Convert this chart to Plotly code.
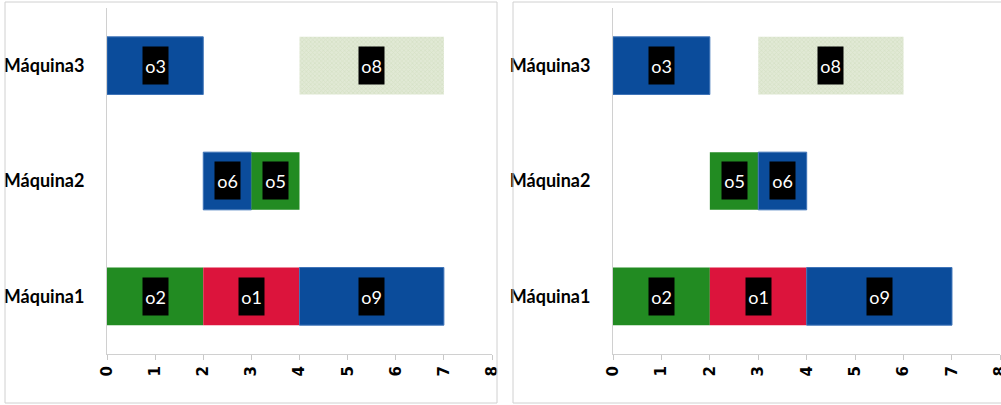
import plotly.graph_objects as go

# Machine rows (bottom to top)
machines = ["Máquina1", "Máquina2", "Máquina3"]

# Schedule A
a_ops = ["o2", "o1", "o9", "o6", "o5", "o3", "o8"]
a_machine = ["Máquina1", "Máquina1", "Máquina1", "Máquina2", "Máquina2", "Máquina3", "Máquina3"]
a_start = [0, 2, 4, 2, 3, 0, 4]
a_end = [2, 4, 7, 3, 4, 2, 7]

# Schedule B
b_ops = ["o2", "o1", "o9", "o5", "o6", "o3", "o8"]
b_machine = ["Máquina1", "Máquina1", "Máquina1", "Máquina2", "Máquina2", "Máquina3", "Máquina3"]
b_start = [0, 2, 4, 2, 3, 0, 3]
b_end = [2, 4, 7, 3, 4, 2, 6]

x_ticks = [0, 1, 2, 3, 4, 5, 6, 7, 8]

BLUE = "#0b4c9b"
GREEN = "#228b22"
RED = "#dc143c"
op_color = {"o1": RED, "o2": GREEN, "o3": BLUE, "o5": GREEN, "o6": BLUE, "o9": BLUE}

W, H = 1001, 405
fig = go.Figure()


def add_schedule(ops, mach, start, end, xa, ya):
    for op, m, s, e in zip(ops, mach, start, end):
        if op == "o8":
            marker = dict(
                color="#dbe5cc",
                line=dict(width=0),
                pattern=dict(shape="x", fgcolor="#c9d7b4", bgcolor="#e1e9d5",
                             size=3, solidity=0.4),
            )
        else:
            c = op_color[op]
            marker = dict(color=c, line=dict(width=1 if c == BLUE else 0,
                                             color="#3f74b8"))
        fig.add_trace(go.Bar(
            y=[m], x=[e - s], base=[s], orientation="h", width=0.5,
            marker=marker, xaxis=xa, yaxis=ya, showlegend=False,
            hovertemplate=f"{op}: %{{base}}–%{{x}}<extra></extra>",
        ))
        fig.add_annotation(
            x=(s + e) / 2, y=m, xref=xa, yref=ya, text=op, showarrow=False,
            bgcolor="black", width=23, height=35,
            font=dict(family="Lato", size=18, color="white"),
        )


add_schedule(a_ops, a_machine, a_start, a_end, "x", "y")
add_schedule(b_ops, b_machine, b_start, b_end, "x2", "y2")

y_dom = [(H - 354) / H, (H - 8) / H]
xaxis_common = dict(
    range=[0, 8], tickvals=x_ticks, tickangle=-90, ticks="outside", ticklen=5,
    tickcolor="#c8c8c8", showline=True, linecolor="#d0d0d0", showgrid=False,
    zeroline=False, fixedrange=True, automargin=False, ticklabeloverflow="allow",
    tickfont=dict(family="DejaVu Sans", size=15, color="black", weight="bold"),
)
yaxis_common = dict(
    type="category", categoryorder="array", categoryarray=machines,
    range=[-0.5, 2.5], domain=y_dom, showline=True, linecolor="#d0d0d0",
    showgrid=False, zeroline=False, ticks="", ticklabelstandoff=18,
    automargin=False,
    tickfont=dict(family="Lato", size=18, color="black", weight="bold"),
)

fig.update_layout(
    width=W, height=H, margin=dict(l=0, r=0, t=0, b=0, autoexpand=False),
    paper_bgcolor="white", plot_bgcolor="white", barmode="overlay",
    xaxis=dict(domain=[107 / W, 492 / W], anchor="y", **xaxis_common),
    yaxis=dict(anchor="x", **yaxis_common),
    xaxis2=dict(domain=[613 / W, 1000.4 / W], anchor="y2", **xaxis_common),
    yaxis2=dict(anchor="x2", **yaxis_common),
    shapes=[
        dict(type="rect", xref="paper", yref="paper", x0=5 / W, x1=497 / W,
             y0=2 / H, y1=(H - 2) / H, line=dict(color="#d0d0d0", width=1)),
        dict(type="rect", xref="paper", yref="paper", x0=513 / W, x1=1.01,
             y0=2 / H, y1=(H - 2) / H, line=dict(color="#d0d0d0", width=1)),
    ],
)

fig.write_html("out.html")
